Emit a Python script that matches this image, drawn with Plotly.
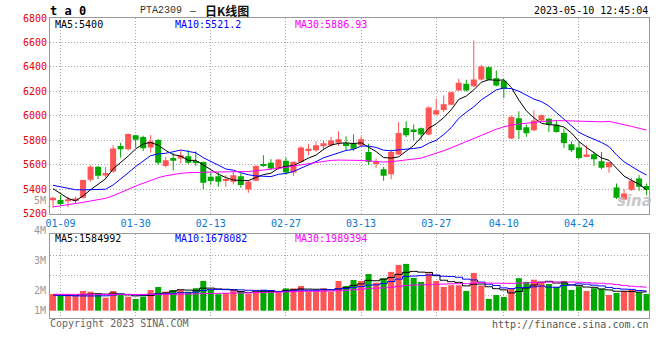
import plotly.graph_objects as go

# ---------------- data ----------------
dates = ["01-06", "01-09", "01-10", "01-11", "01-12", "01-13", "01-16", "01-17", "01-18", "01-19",
         "01-20", "01-30", "01-31", "02-01", "02-02", "02-03", "02-06", "02-07", "02-08", "02-09",
         "02-10", "02-13", "02-14", "02-15", "02-16", "02-17", "02-20", "02-21", "02-22", "02-23",
         "02-24", "02-27", "02-28", "03-01", "03-02", "03-03", "03-06", "03-07", "03-08", "03-09",
         "03-10", "03-13", "03-14", "03-15", "03-16", "03-17", "03-20", "03-21", "03-22", "03-23",
         "03-24", "03-27", "03-28", "03-29", "03-30", "03-31", "04-03", "04-04", "04-06", "04-07",
         "04-10", "04-11", "04-12", "04-13", "04-14", "04-17", "04-18", "04-19", "04-20", "04-21",
         "04-24", "04-25", "04-26", "04-27", "04-28", "05-04", "05-05", "05-08", "05-09", "05-10"]

opens = [5309, 5312, 5301, 5310, 5330, 5478, 5584, 5512, 5545, 5753,
         5726, 5842, 5828, 5742, 5802, 5590, 5655, 5651, 5670, 5624,
         5622, 5502, 5507, 5469, 5461, 5507, 5398, 5469, 5605, 5616,
         5570, 5632, 5537, 5624, 5719, 5719, 5752, 5760, 5781, 5776,
         5771, 5760, 5705, 5613, 5564, 5523, 5684, 5901, 5888, 5898,
         5847, 6012, 6048, 6091, 6208, 6262, 6241, 6298, 6398, 6308,
         6287, 5814, 5980, 5906, 5882, 5963, 5977, 5928, 5860, 5768,
         5741, 5670, 5686, 5629, 5580, 5415, 5317, 5393, 5488, 5426]

highs = [5339, 5353, 5339, 5340, 5478, 5597, 5590, 5584, 5760, 5780,
         5855, 5845, 5838, 5843, 5812, 5665, 5695, 5716, 5720, 5710,
         5626, 5535, 5540, 5515, 5542, 5530, 5474, 5597, 5678, 5646,
         5646, 5660, 5626, 5752, 5771, 5792, 5795, 5828, 5874, 5833,
         5849, 5833, 5773, 5651, 5583, 5724, 5950, 5955, 5930, 5905,
         6078, 6140, 6167, 6197, 6303, 6295, 6616, 6417, 6406, 6371,
         6303, 6004, 6037, 5928, 6045, 6012, 5982, 5963, 5896, 5792,
         5787, 5760, 5705, 5705, 5624, 5447, 5401, 5493, 5515, 5447]

lows = [5250, 5265, 5252, 5280, 5322, 5462, 5483, 5490, 5535, 5658,
        5715, 5740, 5712, 5700, 5598, 5578, 5553, 5611, 5606, 5590,
        5400, 5436, 5420, 5420, 5439, 5412, 5371, 5464, 5583, 5556,
        5560, 5521, 5510, 5616, 5678, 5705, 5719, 5746, 5754, 5719,
        5714, 5754, 5597, 5575, 5469, 5480, 5678, 5825, 5798, 5800,
        5841, 6004, 6031, 6086, 6205, 6200, 6236, 6290, 6290, 6241,
        6146, 5809, 5809, 5828, 5874, 5955, 5868, 5863, 5738, 5705,
        5646, 5665, 5591, 5564, 5534, 5320, 5306, 5387, 5387, 5352]

closes = [5331, 5279, 5318, 5325, 5475, 5583, 5510, 5533, 5733, 5726,
          5852, 5805, 5735, 5793, 5616, 5638, 5632, 5678, 5616, 5616,
          5453, 5468, 5461, 5480, 5515, 5434, 5461, 5591, 5597, 5570,
          5643, 5537, 5624, 5741, 5730, 5760, 5776, 5798, 5809, 5754,
          5730, 5809, 5624, 5624, 5510, 5705, 5860, 5841, 5873, 5847,
          6069, 6045, 6094, 6192, 6271, 6208, 6298, 6404, 6295, 6249,
          6222, 5991, 5885, 5858, 5961, 6004, 5931, 5868, 5779, 5719,
          5656, 5685, 5646, 5575, 5621, 5330, 5366, 5469, 5420, 5393]

volumes = [1415000, 1271000, 1271000, 1229000, 1669000, 1610000, 1415000, 1102000, 1669000, 1331000,
           1186000, 992000, 1186000, 1754000, 2008000, 1610000, 1754000, 1754000, 1610000, 1907000,
           2517000, 1780000, 1398000, 1492000, 1754000, 1669000, 1441000, 1636000, 1754000, 1669000,
           1669000, 1890000, 1890000, 2093000, 1610000, 1610000, 1890000, 1610000, 2517000, 2093000,
           2602000, 2517000, 3110000, 2373000, 2754000, 3288000, 3873000, 3966000, 2780000, 2441000,
           3161000, 2517000, 2017000, 2161000, 2153000, 1669000, 3203000, 2136000, 992000, 1331000,
           1169000, 1907000, 2754000, 2441000, 2627000, 2373000, 2263000, 2017000, 2517000, 1754000,
           2059000, 1669000, 1907000, 1839000, 1331000, 1508000, 1669000, 1797000, 1568000, 1415000]

# moving-average values before enough in-window data exists
ma5_head = [5405, 5365, 5325, 5305]
ma10_head = [5432, 5420, 5404, 5396, 5395, 5395, 5396, 5400, 5435]
ma30_head = [5255, 5263, 5277, 5282, 5293, 5304, 5317, 5326, 5347, 5371,
             5399, 5426, 5448, 5475, 5494, 5510, 5521, 5530, 5535, 5538,
             5540, 5543, 5542, 5542, 5542, 5545, 5545, 5550, 5556]
vma5_head = [1350000, 1330000, 1330000, 1310000]
vma10_head = [1330000, 1300000, 1280000, 1250000, 1250000, 1250000, 1250000, 1260000, 1330000]
vma30_head = [1390000, 1390000, 1385000, 1385000, 1390000, 1390000, 1385000, 1380000, 1385000, 1385000,
              1385000, 1380000, 1380000, 1385000, 1390000, 1395000, 1400000, 1410000, 1420000, 1430000,
              1445000, 1460000, 1470000, 1480000, 1490000, 1500000, 1510000, 1530000, 1545000]

date_ticks = ["01-09", "01-30", "02-13", "02-27", "03-13", "03-27", "04-10", "04-24"]
price_ticks = [5200, 5400, 5600, 5800, 6000, 6200, 6400, 6600, 6800]
vol_axis_labels = ["5M", "4M", "3M", "2M", "1M"]

title_code = "PTA2309"
title_cn = "日K线图"
header_left = "t a 0"
timestamp = "2023-05-10 12:45:04"
price_ma_labels = ["MA5:5400", "MA10:5521.2", "MA30:5886.93"]
vol_ma_labels = ["MA5:1584992", "MA10:1678082", "MA30:1989394"]
copyright_text = "Copyright 2023 SINA.COM"
url_text = "http://finance.sina.com.cn"

# ---------------- helpers ----------------
def moving_average(values, n, head):
    out = list(head)
    for i in range(len(head), len(values)):
        out.append(sum(values[i - n + 1:i + 1]) / n)
    return out

ma5 = moving_average(closes, 5, ma5_head)
ma10 = moving_average(closes, 10, ma10_head)
ma30 = moving_average(closes, 30, ma30_head)
vma5 = moving_average(volumes, 5, vma5_head)
vma10 = moving_average(volumes, 10, vma10_head)
vma30 = moving_average(volumes, 30, vma30_head)

RED = "#ff5555"
GREEN = "#00a800"
MONO = "DejaVu Sans Mono"

idx = list(range(len(dates)))
up = [c >= o for o, c in zip(opens, closes)]
colors = [RED if u else GREEN for u in up]
tick_pos = [dates.index(d) for d in date_ticks]

# layout geometry (pixels)
W, H = 660, 360
L, R = 50, 649
T, B = 18, 318

def ax(px):
    return (px - L) / (R - L)

def ay(py):
    return (B - py) / (B - T)

fig = go.Figure()

# wicks
for flag, col in ((True, RED), (False, GREEN)):
    xs, ys = [], []
    for i in idx:
        if up[i] == flag:
            xs += [i, i, None]
            ys += [lows[i], highs[i], None]
    fig.add_trace(go.Scatter(x=xs, y=ys, mode="lines", line=dict(color=col, width=1),
                             xaxis="x", yaxis="y", hoverinfo="skip", showlegend=False))

# bodies
fig.add_trace(go.Bar(x=idx, y=[abs(c - o) for o, c in zip(opens, closes)],
                     base=[min(o, c) for o, c in zip(opens, closes)],
                     width=0.8, marker=dict(color=colors, line=dict(width=0)),
                     xaxis="x", yaxis="y", showlegend=False, hoverinfo="skip"))

for vals, col in ((ma5, "#000000"), (ma10, "#0000ff"), (ma30, "#ff00ff")):
    fig.add_trace(go.Scatter(x=idx, y=vals, mode="lines", line=dict(color=col, width=1),
                             xaxis="x", yaxis="y", hoverinfo="skip", showlegend=False))

# volume
fig.add_trace(go.Bar(x=idx, y=volumes, width=0.8, marker=dict(color=colors, line=dict(width=0)),
                     xaxis="x2", yaxis="y2", showlegend=False, hoverinfo="skip"))
for vals, col in ((vma5, "#000000"), (vma10, "#0000ff"), (vma30, "#ff00ff")):
    fig.add_trace(go.Scatter(x=idx, y=vals, mode="lines", line=dict(color=col, width=1, shape="hvh"),
                             xaxis="x2", yaxis="y2", hoverinfo="skip", showlegend=False))

GRID = dict(showgrid=True, gridcolor="#aaaaaa", griddash="1px,2px", gridwidth=1,
            showline=True, linecolor="#999999", linewidth=1, mirror=True, zeroline=False, ticks="")

main_bottom = 213.7
vol_top = 234.3
vol_base_px = 310.7
px_per_unit = 11.8 / 1e6
vol_lo = -(B - vol_base_px) / px_per_unit
vol_hi = (vol_base_px - vol_top) / px_per_unit
vol_grid = [(vol_base_px - p) / px_per_unit for p in (255, 275, 295)]

fig.update_layout(
    width=W, height=H,
    margin=dict(l=L, r=W - R, t=T, b=H - B, pad=0, autoexpand=False),
    paper_bgcolor="white", plot_bgcolor="white",
    barmode="overlay",
    showlegend=False,
    font=dict(family=MONO, size=10, color="#000"),
    xaxis=dict(domain=[0, 1], anchor="y", range=[-0.4, 79.32], tickmode="array",
               tickvals=tick_pos, ticktext=date_ticks,
               tickfont=dict(family=MONO, size=10, color="#0a78d2"), **GRID),
    yaxis=dict(domain=[ay(main_bottom), 1], anchor="x", range=[5200, 6800], tickmode="array",
               tickvals=price_ticks, ticktext=[str(v) for v in price_ticks],
               tickfont=dict(family=MONO, size=10, color="#e60000"), **GRID),
    xaxis2=dict(domain=[0, 1], anchor="y2", matches="x", tickmode="array", tickvals=tick_pos,
                showticklabels=False, **GRID),
    yaxis2=dict(domain=[0, ay(vol_top)], anchor="x2", range=[vol_lo, vol_hi], tickmode="array",
                tickvals=vol_grid, showticklabels=False, **GRID),
)

ann = []

def add_text(text, px, py, anchor="left", color="#000", size=10, family=MONO, **kw):
    ann.append(dict(text=text, x=ax(px), y=ay(py), xref="paper", yref="paper",
                    xanchor=anchor, yanchor="middle", showarrow=False,
                    font=dict(family=family, size=size, color=color), borderpad=0, **kw))

add_text("<b>" + header_left + "</b>", 49, 11, size=12)
add_text(title_code, 139, 10.5, color="#333333", family="Liberation Mono", size=10)
add_text("–", 189, 10.5, color="#333333", size=10)
add_text("<b>" + title_cn + "</b>", 204, 10.5, color="#111111", family="Noto Sans CJK SC", size=12)
add_text(timestamp, 649, 11, anchor="right")

for txt, px, col in zip(price_ma_labels, (54, 174, 294), ("#000000", "#0000ff", "#ff00ff")):
    add_text(txt, px, 24, color=col)
for txt, px, col in zip(vol_ma_labels, (54, 174, 294), ("#000000", "#0000ff", "#ff00ff")):
    add_text(txt, px, 238.5, color=col)

for txt, py in zip(vol_axis_labels, (200, 230, 260.5, 290.7, 310.7)):
    add_text(txt, 47, py, anchor="right", color="#999999")

add_text(copyright_text, 49, 323, color="#666666")
add_text(url_text, 650, 324, anchor="right", color="#555555")
add_text("<b><i>sina</i></b>", 634, 201, anchor="center", color="#bbbbbb", size=15,
         family="DejaVu Sans", opacity=0.8)

fig.update_layout(annotations=ann)

fig.write_html("out.html", config={"displayModeBar": False},
               post_script="document.body.style.margin='0';document.body.style.overflow='hidden';")
